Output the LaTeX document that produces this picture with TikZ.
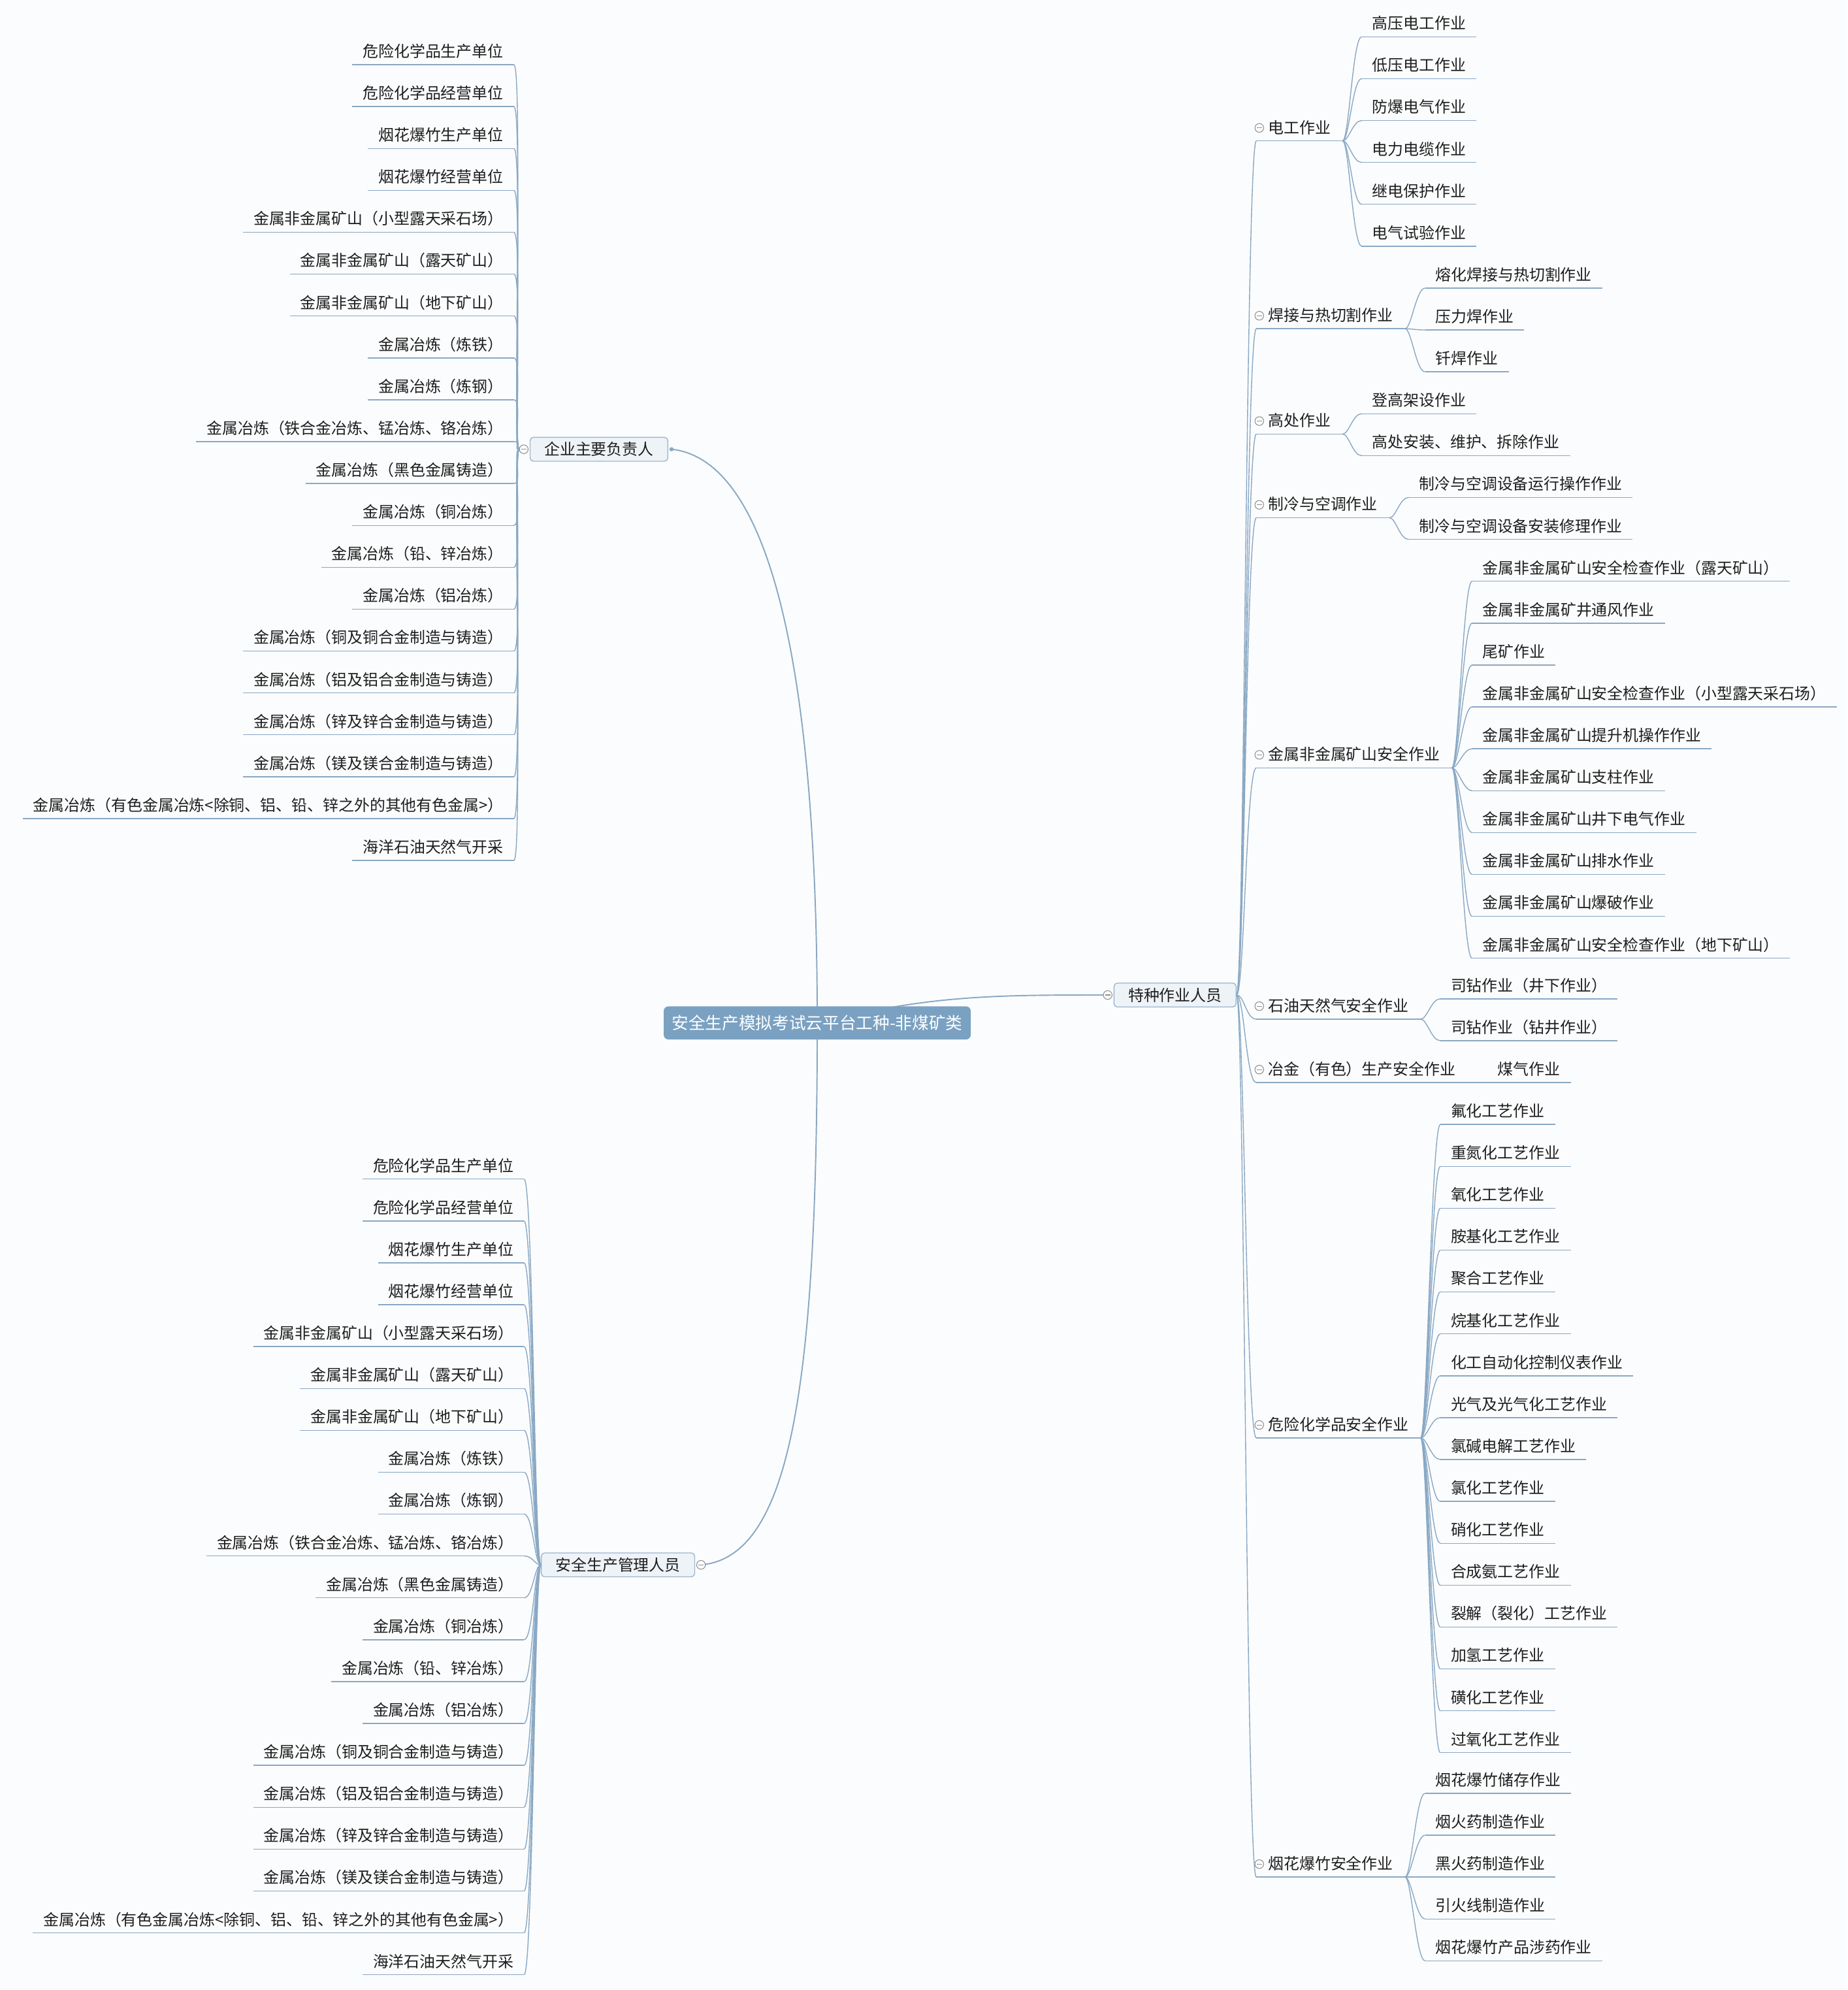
\documentclass[tikz,border=0pt]{standalone}
\usepackage{fontspec}
\setmainfont{Noto Sans CJK SC}
\usepackage{xcolor}
\usetikzlibrary{positioning,calc}
\definecolor{paper}{HTML}{FBFCFD}
\definecolor{ink}{HTML}{1E1E1E}
\definecolor{rootblue}{HTML}{7AA1C1}
\definecolor{topicbg}{HTML}{EEF3F8}
\definecolor{topicedge}{HTML}{9CB7CF}
\definecolor{linkblue}{HTML}{89A8C4}
\definecolor{foldgray}{HTML}{8E8E8E}
\pgfdeclarelayer{bg}
\pgfsetlayers{bg,main}
\tikzset{
  rootbox/.style={fill=rootblue,rounded corners=2pt,text=white,
                  font=\fontsize{7.3pt}{9pt}\selectfont,
                  minimum width=133.7pt,minimum height=14.4pt,inner sep=0pt},
  topicbox/.style={draw=topicedge,fill=topicbg,line width=0.4pt,
                   rounded corners=1.5pt,text=ink,
                   font=\fontsize{6.8pt}{8pt}\selectfont,
                   inner xsep=6.2pt,inner ysep=0pt,minimum height=10.4pt},
  leaf/.style={text=ink,font=\fontsize{6.8pt}{8pt}\selectfont,
               text height=6.1pt,text depth=1.4pt,
               inner xsep=4.4pt,inner ysep=1.7pt},
  branch/.style={leaf,inner xsep=5pt},
  fold/.style={circle,draw=foldgray,fill=white,line width=0.3pt,
               minimum size=3.8pt,inner sep=0pt,
               path picture={\draw[foldgray,line width=0.3pt]
                 ([xshift=-1.1pt]path picture bounding box.center) --
                 ([xshift=1.1pt]path picture bounding box.center);}},
  dot/.style={circle,fill=linkblue,minimum size=1.8pt,inner sep=0pt},
  link/.style={draw=linkblue,line width=0.4pt},
  rootlink/.style={draw=linkblue,line width=0.55pt}
}

% units under both left topics
\newcommand\dutylist{危险化学品生产单位,危险化学品经营单位,烟花爆竹生产单位,烟花爆竹经营单位,
  金属非金属矿山（小型露天采石场）,金属非金属矿山（露天矿山）,金属非金属矿山（地下矿山）,
  金属冶炼（炼铁）,金属冶炼（炼钢）,金属冶炼（铁合金冶炼、锰冶炼、铬冶炼）,
  金属冶炼（黑色金属铸造）,金属冶炼（铜冶炼）,金属冶炼（铅、锌冶炼）,金属冶炼（铝冶炼）,
  金属冶炼（铜及铜合金制造与铸造）,金属冶炼（铝及铝合金制造与铸造）,
  金属冶炼（锌及锌合金制造与铸造）,金属冶炼（镁及镁合金制造与铸造）,
  金属冶炼（有色金属冶炼<除铜、铝、铅、锌之外的其他有色金属>）,海洋石油天然气开采}

% right side leaves: parent, x, first y, list
\newcommand\twigs[4]{%
  \foreach \txt [count=\i] in {#4} {
    \node[leaf,anchor=south west] (#1-\i) at (#2,{#3+33*(\i-1)+11}) {\txt};
    \draw[link] (#1-\i.south west) -- (#1-\i.south east);
    \draw[link] (#1.south east) .. controls +(5,0) and +(-7,0) .. (#1-\i.south west);
  }}

% left side leaves: prefix, target, x, first y, list
\newcommand\twigsleft[5]{%
  \foreach \txt [count=\i] in #5 {
    \node[leaf,anchor=south east] (#1-\i) at (#3,{#4+33*(\i-1)+10}) {\txt};
    \draw[link] (#1-\i.south west) -- (#1-\i.south east);
    \draw[link] (#1-\i.south east) .. controls +(7,0) and +(-5,0) .. (#2);
  }}

\begin{document}
\begin{tikzpicture}[x=0.019423cm,y=-0.019423cm]
  \path[use as bounding box] (0,0) rectangle (1456,1568);
  \begin{pgfonlayer}{bg}
    \fill[paper] (0,0) rectangle (1456,1568);
  \end{pgfonlayer}

  \node[rootbox] (root) at (644,806) {安全生产模拟考试云平台工种-非煤矿类};

  \node[topicbox] (boss) at (472,354) {企业主要负责人};
  \node[fold,left=0.5pt of boss] (boss-c) {};
  \node[dot,right=0.3pt of boss] (boss-d) {};

  \node[topicbox] (mgr) at (487,1233) {安全生产管理人员};
  \node[fold,right=0.5pt of mgr] (mgr-c) {};

  \node[topicbox] (tz) at (926,784) {特种作业人员};
  \node[fold,left=0.5pt of tz] (tz-c) {};

  \begin{pgfonlayer}{bg}
    \draw[rootlink] (root.center) .. controls +(0,-290) and +(75,8) .. (boss-d.center);
    \draw[rootlink] (root.center) .. controls +(0,290) and +(70,-6) .. (mgr-c.center);
    \draw[rootlink] (root.center) .. controls +(90,-22) and +(-90,0) .. (tz-c.center);
  \end{pgfonlayer}

  \twigsleft{boss}{boss-c.west}{405}{41}{\dutylist}
  \twigsleft{mgr}{mgr.west}{413}{919}{\dutylist}

  \foreach \nm/\txt/\y in {dg/电工作业/100, hj/焊接与热切割作业/248, gc/高处作业/331,
      zl/制冷与空调作业/397, ks/金属非金属矿山安全作业/594, sy/石油天然气安全作业/792,
      yj/冶金（有色）生产安全作业/842, wh/危险化学品安全作业/1122, yh/烟花爆竹安全作业/1468} {
    \node[branch,anchor=south west] (\nm) at (990,\y+11) {\txt};
    \node[fold] (\nm-c) at ([xshift=1.3pt]\nm.west) {};
    \draw[link] (\nm.south west) -- (\nm.south east);
    \draw[link] (tz.east) .. controls +(6,0) and +(-8,0) .. (\nm.south west);
  }

  \twigs{dg}{1073}{18}{高压电工作业,低压电工作业,防爆电气作业,电力电缆作业,继电保护作业,电气试验作业}
  \twigs{hj}{1123}{216}{熔化焊接与热切割作业,压力焊作业,钎焊作业}
  \twigs{gc}{1073}{315}{登高架设作业,高处安装、维护、拆除作业}
  \twigs{zl}{1110}{381}{制冷与空调设备运行操作作业,制冷与空调设备安装修理作业}
  \twigs{ks}{1160}{447}{金属非金属矿山安全检查作业（露天矿山）,金属非金属矿井通风作业,尾矿作业,
    金属非金属矿山安全检查作业（小型露天采石场）,金属非金属矿山提升机操作作业,金属非金属矿山支柱作业,
    金属非金属矿山井下电气作业,金属非金属矿山排水作业,金属非金属矿山爆破作业,
    金属非金属矿山安全检查作业（地下矿山）}
  \twigs{sy}{1135}{776}{司钻作业（井下作业）,司钻作业（钻井作业）}
  \twigs{yj}{1172}{842}{煤气作业}
  \twigs{wh}{1135}{875}{氟化工艺作业,重氮化工艺作业,氧化工艺作业,胺基化工艺作业,聚合工艺作业,
    烷基化工艺作业,化工自动化控制仪表作业,光气及光气化工艺作业,氯碱电解工艺作业,氯化工艺作业,
    硝化工艺作业,合成氨工艺作业,裂解（裂化）工艺作业,加氢工艺作业,磺化工艺作业,过氧化工艺作业}
  \twigs{yh}{1123}{1402}{烟花爆竹储存作业,烟火药制造作业,黑火药制造作业,引火线制造作业,烟花爆竹产品涉药作业}
\end{tikzpicture}
\end{document}
